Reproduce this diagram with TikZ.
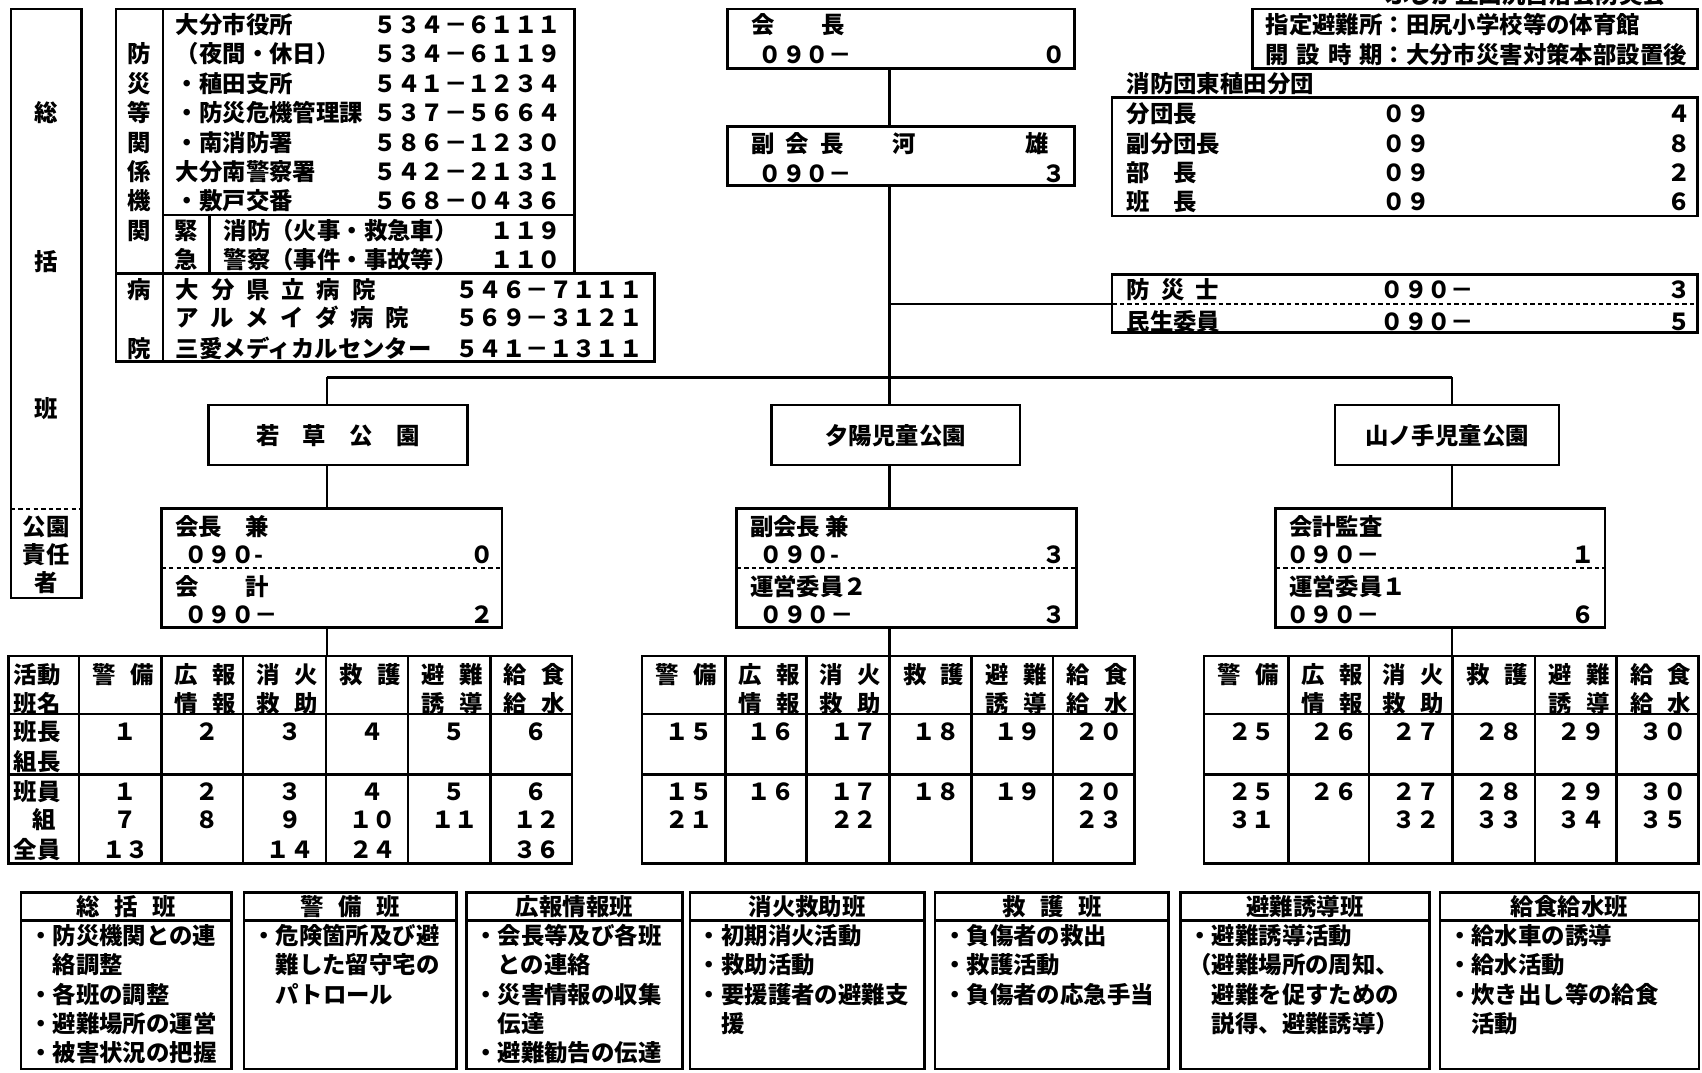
\documentclass[tikz,border=0pt]{standalone}
\usepackage{fontspec}
\setmainfont{Noto Sans CJK JP}
\usetikzlibrary{fit}
\newcounter{tn}
\newcommand\BX[5]{\path (#2,#3) coordinate (#1-a) (#4,#5) coordinate (#1-b); \node[bx,fit=(#1-a)(#1-b)] (#1) {};}
\newcommand\TW[3]{\stepcounter{tn}\node[tx,anchor=west] (t\arabic{tn}) at ({#1},{#2}) {#3};}
\newcommand\TE[3]{\stepcounter{tn}\node[tx,anchor=east] (t\arabic{tn}) at ({#1},{#2}) {#3};}
\newcommand\TC[3]{\stepcounter{tn}\node[tx,anchor=center] (t\arabic{tn}) at ({#1},{#2}) {#3};}
\newcommand\hg{\hspace{7.2pt}}
\newcommand\hp{\hspace{5.6pt}}
\tikzset{
 bx/.style={draw,line width=1.3pt,inner sep=0pt,outer sep=0pt},
 tx/.style={inner sep=0pt,outer sep=0pt,text height=10.3pt,text depth=1.4pt,font=\bfseries\fontsize{11.7}{14}\selectfont},
 ln/.style={line width=1.3pt},
 dt/.style={line width=1.1pt,dash pattern=on 2.2pt off 1.6pt},
}
\begin{document}
\begin{tikzpicture}[x=0.54275pt,y=-0.54275pt]
\useasboundingbox (0,0) rectangle (1568,988);
\fill[white] (0,0) rectangle (1568,988);
% ---------- left 総括班 column
\BX{sok}{10}{8.3}{75}{551}
\draw[dt] (10,469) -- (75,469);
\TC{42.5}{104}{総}
\TC{42.5}{241}{括}
\TC{42.5}{376}{班}
\TC{42.5}{485}{公園}
\TC{42.5}{511}{責任}
\TC{42.5}{537}{者}
% ---------- 防災等関係機関
\BX{bosai}{107}{8.3}{529}{252}
\BX{byoin}{107}{252}{603}{333}
\draw[ln] (150,8.3) -- (150,333);
\draw[ln] (150,198) -- (529,198);
\draw[ln] (193,198) -- (193,252);
\TC{128.5}{49.7}{防}
\TC{128.5}{76.8}{災}
\TC{128.5}{103.8}{等}
\TC{128.5}{131.4}{関}
\TC{128.5}{158}{係}
\TC{128.5}{185}{機}
\TC{128.5}{212.8}{関}
\TC{171.5}{212.8}{緊}
\TC{171.5}{239.5}{急}
\TC{128.5}{266.5}{病}
\TC{128.5}{321}{院}
\TW{162}{23}{大分市役所}
\TW{162}{49.7}{（夜間・休日）}
\TW{162}{76.8}{・稙田支所}
\TW{162}{103.8}{・防災危機管理課}
\TW{162}{131.4}{・南消防署}
\TW{162}{158}{大分南警察署}
\TW{162}{185}{・敷戸交番}
\TE{517}{23}{５３４－６１１１}
\TE{517}{49.7}{５３４－６１１９}
\TE{517}{76.8}{５４１－１２３４}
\TE{517}{103.8}{５３７－５６６４}
\TE{517}{131.4}{５８６－１２３０}
\TE{517}{158}{５４２－２１３１}
\TE{517}{185}{５６８－０４３６}
\TW{206}{212.8}{消防（火事・救急車）}
\TW{206}{239.5}{警察（事件・事故等）}
\TE{517}{212.8}{１１９}
\TE{517}{239.5}{１１０}
\TW{162}{266.5}{\makebox[99.8pt][s]{大\hfill 分\hfill 県\hfill 立\hfill 病\hfill 院}}
\TW{162}{293}{\makebox[116.5pt][s]{ア\hfill ル\hfill メ\hfill イ\hfill ダ\hfill 病\hfill 院}}
\TW{162}{321}{三愛メディカルセンター}
\TE{592}{266.5}{５４６－７１１１}
\TE{592}{293}{５６９－３１２１}
\TE{592}{321}{５４１－１３１１}
% ---------- 会長 / 副会長
\BX{kaicho}{670}{8.3}{990}{63}
\TW{692}{23}{会　　長}
\TW{699}{50.7}{０９０－}
\TE{982}{50.7}{０}
\BX{fuku}{670}{116.7}{990}{171}
\TW{692}{132}{副\hp 会\hp 長}
\TW{822}{132}{河}
\TW{945}{132}{雄}
\TW{699}{159.7}{０９０－}
\TE{982}{159.7}{３}
% ---------- top right
\TW{1276}{-5}{ふじが丘田尻自治会防災会}
\BX{shitei}{1154}{8.3}{1564}{63}
\TW{1166}{23}{指定避難所：田尻小学校等の体育館}
\TW{1166}{50.7}{\makebox[58.5pt][s]{開\hfill 設\hfill 時\hfill 期}：大分市災害対策本部設置後}
\TW{1038}{76.8}{消防団東稙田分団}
\BX{bundan}{1024.6}{89.7}{1564}{199}
\TW{1038}{104.4}{分団長}
\TW{1038}{132}{副分団長}
\TW{1038}{159}{部　長}
\TW{1038}{185.8}{班　長}
\TW{1274}{104.4}{０９}
\TW{1274}{132}{０９}
\TW{1274}{159}{０９}
\TW{1274}{185.8}{０９}
\TE{1558}{104.4}{４}
\TE{1558}{132}{８}
\TE{1558}{159}{２}
\TE{1558}{185.8}{６}
\BX{bshi}{1024.6}{253}{1564}{306.5}
\draw[dt] (1024.6,280) -- (1564,280);
\TW{1038}{267}{防\hp 災\hp 士}
\TW{1038}{296}{民生委員}
\TW{1272}{267}{０９０－}
\TW{1272}{296}{０９０－}
\TE{1558}{267}{３}
\TE{1558}{296}{５}
% ---------- connectors top
\coordinate (trunk) at (819.6,0);
\coordinate (bsep) at (1024.6,280);
\coordinate (busL) at (301.4,347.6);
\coordinate (busC) at (819.6,347.6);
\coordinate (busR) at (1337.7,347.6);
\draw[ln] (kaicho.south -| trunk) -- (fuku.north -| trunk);
\draw[ln] (fuku.south -| trunk) -- (busC);
\draw[ln] (bsep -| trunk) -- (bshi.west |- bsep);
\draw[ln] (busL) -- (busR);
% ---------- parks
\BX{parkL}{192}{373}{430.7}{428.4}
\BX{parkM}{710.7}{373}{939.5}{428.4}
\BX{parkR}{1229.8}{373}{1436.3}{428.4}
\TC{311.4}{401.7}{若　草　公　園}
\TC{825.1}{401.7}{夕陽児童公園}
\TC{1333}{401.7}{山ノ手児童公園}
\draw[ln] (busL) -- (parkL.north -| busL);
\draw[ln] (busC) -- (parkM.north -| busC);
\draw[ln] (busR) -- (parkR.north -| busR);
% ---------- responsible persons
\BX{respL}{148.7}{468.3}{462.5}{578}
\BX{respM}{678.6}{468.3}{991.7}{578}
\BX{respR}{1175.2}{468.3}{1478.8}{578}
\draw[dt] (148.7,523.5) -- (462.5,523.5);
\draw[dt] (678.6,523.5) -- (991.7,523.5);
\draw[dt] (1175.2,523.5) -- (1478.8,523.5);
\draw[ln] (parkL.south -| busL) -- (respL.north -| busL);
\draw[ln] (parkM.south -| busC) -- (respM.north -| busC);
\draw[ln] (parkR.south -| busR) -- (respR.north -| busR);
\TW{161.4}{485}{会長　兼}
\TW{170}{510.5}{０９０-}
\TE{455}{510.5}{０}
\TW{161.4}{540}{会　　計}
\TW{170}{566}{０９０－}
\TE{455}{566}{２}
\TW{691}{485}{副会長 兼}
\TW{700}{510.5}{０９０-}
\TE{982}{510.5}{３}
\TW{691}{540}{運営委員２}
\TW{700}{566}{０９０－}
\TE{982}{566}{３}
\TW{1187.5}{485}{会計監査}
\TW{1185}{510.5}{０９０－}
\TE{1469}{510.5}{１}
\TW{1187.5}{540}{運営委員１}
\TW{1185}{566}{０９０－}
\TE{1469}{566}{６}
% ---------- tables
\BX{tabL}{8}{604.3}{527.1}{795.3}
\BX{tabM}{591.5}{604.3}{1045}{795.3}
\BX{tabR}{1109.2}{604.3}{1565}{795.3}
\draw[ln] (respL.south -| busL) -- (tabL.north -| busL);
\draw[ln] (respM.south -| busC) -- (tabM.north -| busC);
\draw[ln] (respR.south -| busR) -- (tabR.north -| busR);
\foreach \ya in {657.8,713.3} {
  \draw[ln] (8,\ya) -- (527.1,\ya);
  \draw[ln] (591.5,\ya) -- (1045,\ya);
  \draw[ln] (1109.2,\ya) -- (1565,\ya);
}
\foreach \xx in {72.9,148.6,224,300.5,376,451.7,668.3,742.9,819.5,895.2,970.2,1186.8,1261.2,1338.3,1414.1,1489.3}
  {\draw[ln] (\xx,604.3) -- (\xx,795.3);}
\TW{12.7}{621.8}{活動}
\TW{12.7}{648}{班名}
\TW{12.7}{674.1}{班長}
\TW{12.7}{701.7}{組長}
\TW{12.7}{729.3}{班員}
\TC{40.5}{755.4}{組}
\TW{12.7}{782.4}{全員}
\foreach \ca/\cb/\cc/\cd/\ce/\cf in {72.9/148.6/224/300.5/376/451.7, 591.5/668.3/742.9/819.5/895.2/970.2, 1109.2/1186.8/1261.2/1338.3/1414.1/1489.3} {
  \TW{\ca+12.5}{621.8}{警\hg 備}
  \TW{\cb+12.5}{621.8}{広\hg 報}
  \TW{\cb+12.5}{648}{情\hg 報}
  \TW{\cc+12.5}{621.8}{消\hg 火}
  \TW{\cc+12.5}{648}{救\hg 助}
  \TW{\cd+12.5}{621.8}{救\hg 護}
  \TW{\ce+12.5}{621.8}{避\hg 難}
  \TW{\ce+12.5}{648}{誘\hg 導}
  \TW{\cf+12.5}{621.8}{給\hg 食}
  \TW{\cf+12.5}{648}{給\hg 水}
}
\foreach \xa/\xb/\va/\vb/\vc in {
  72.9/148.6/１/７/１３, 148.6/224/２/８/, 224/300.5/３/９/１４, 300.5/376/４/１０/２４, 376/451.7/５/１１/, 451.7/527.1/６/１２/３６,
  591.5/668.3/１５/２１/, 668.3/742.9/１６//, 742.9/819.5/１７/２２/, 819.5/895.2/１８//, 895.2/970.2/１９//, 970.2/1045/２０/２３/,
  1109.2/1186.8/２５/３１/, 1186.8/1261.2/２６//, 1261.2/1338.3/２７/３２/, 1338.3/1414.1/２８/３３/, 1414.1/1489.3/２９/３４/, 1489.3/1565/３０/３５/} {
  \TC{(\xa+\xb)/2+5}{674.1}{\va}
  \TC{(\xa+\xb)/2+5}{729.3}{\va}
  \ifx\vb\empty\else\TC{(\xa+\xb)/2+5}{755.4}{\vb}\fi
  \ifx\vc\empty\else\TC{(\xa+\xb)/2+5}{782.4}{\vc}\fi
}
% ---------- bottom boxes
\foreach \bl/\br/\bh [count=\bi] in {19.2/213.2/{総\hg 括\hg 班}, 224.9/420.4/{警\hg 備\hg 班}, 429.5/629/広報情報班, 635.7/851.6/消火救助班, 861.5/1076.7/{救\hg 護\hg 班}, 1087.6/1316.7/避難誘導班, 1326.6/1565.1/給食給水班} {
  \BX{duty\bi}{\bl}{822}{\br}{985}
  \draw[ln] (\bl,848) -- (\br,848);
  \TC{(\bl+\br)/2}{835}{\bh}
}
\foreach \lt [count=\k from 0] in {・防災機関との連,　絡調整,・各班の調整,・避難場所の運営,・被害状況の把握} {\TW{27}{862+27*\k}{\lt}}
\foreach \lt [count=\k from 0] in {・危険箇所及び避,　難した留守宅の,　パトロール} {\TW{232.4}{862+27*\k}{\lt}}
\foreach \lt [count=\k from 0] in {・会長等及び各班,　との連絡,・災害情報の収集,　伝達,・避難勧告の伝達} {\TW{437}{862+27*\k}{\lt}}
\foreach \lt [count=\k from 0] in {・初期消火活動,・救助活動,・要援護者の避難支,　援} {\TW{643}{862+27*\k}{\lt}}
\foreach \lt [count=\k from 0] in {・負傷者の救出,・救護活動,・負傷者の応急手当} {\TW{869}{862+27*\k}{\lt}}
\foreach \lt [count=\k from 0] in {・避難誘導活動,（避難場所の周知、,　避難を促すための,　説得、避難誘導）} {\TW{1095}{862+27*\k}{\lt}}
\foreach \lt [count=\k from 0] in {・給水車の誘導,・給水活動,・炊き出し等の給食,　活動} {\TW{1334}{862+27*\k}{\lt}}
\end{tikzpicture}
\end{document}
